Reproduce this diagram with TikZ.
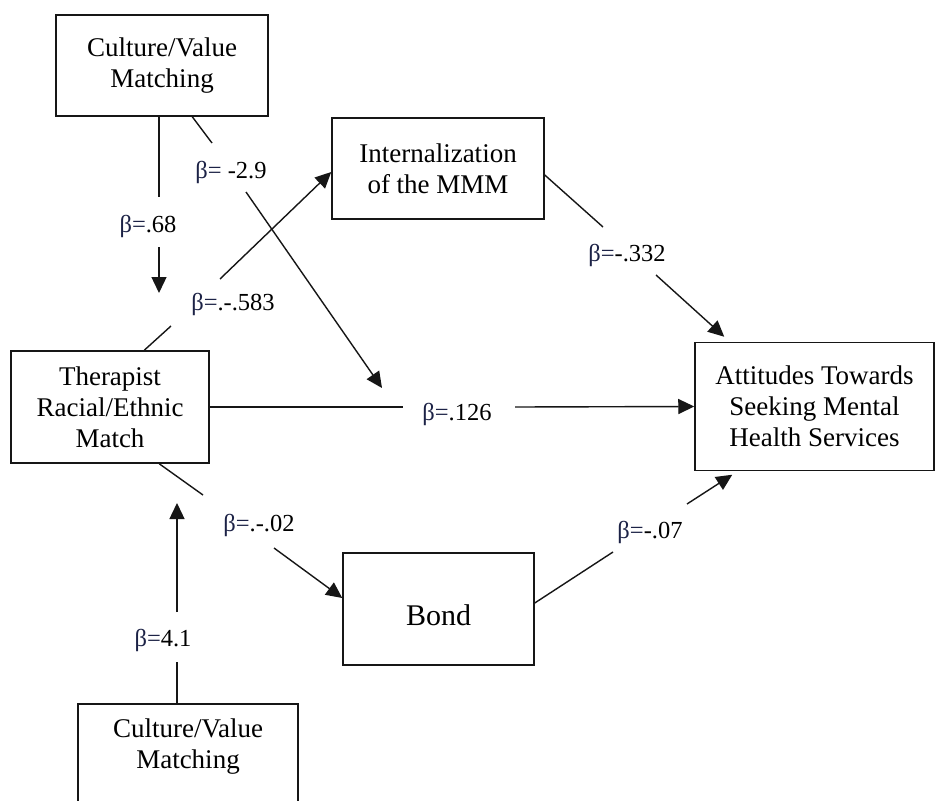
\documentclass[tikz,border=0pt]{standalone}
\usepackage{fontspec}
\setmainfont{Liberation Serif}
\usetikzlibrary{arrows.meta}
\definecolor{betac}{RGB}{28,34,70}
\definecolor{ink}{RGB}{22,22,22}
\newcommand{\bz}[1]{{\color{betac}β=}#1}
\begin{document}
\begin{tikzpicture}[x=1pt,y=-1pt,
  box/.style={draw=ink,line width=1.5pt,rectangle,align=center,
    font=\fontsize{27}{31}\selectfont,inner sep=0pt},
  boxtext/.style={align=center,font=\fontsize{27}{31}\selectfont,inner sep=0pt},
  lnk/.style={draw=ink,line width=1.4pt},
  arr/.style={lnk,-{Triangle[length=16pt,width=15pt]}},
  beta/.style={font=\fontsize{24.5}{28}\selectfont,inner sep=0pt}]
\useasboundingbox (0,0) rectangle (936,800);
\fill[white] (0,0) rectangle (936,800);
\begin{scope}
\clip (0,0) rectangle (936,800);
% boxes
\node[box,minimum width=212pt,minimum height=101pt] (cv1) at (162,65.5) {Culture/Value\\Matching};
\node[box,minimum width=212pt,minimum height=101pt] (int) at (438,168.5) {Internalization\\of the MMM};
\node[box,minimum width=198pt,minimum height=112pt] (ther) at (110,407) {Therapist\\Racial/Ethnic\\Match};
\node[box,minimum width=239pt,minimum height=128pt] (att) at (814.5,406.5) {Attitudes Towards\\Seeking Mental\\Health Services};
\node[box,minimum width=191pt,minimum height=112pt,font=\fontsize{30}{34}\selectfont,text height=34pt] (bond) at (438.5,609) {Bond};
\node[box,minimum width=220pt,minimum height=120pt,anchor=north] (cv2) at (188,703) {};
\node[boxtext] (cv2t) at (188,747) {Culture/Value\\Matching};
% gap coordinates and free ends
\coordinate (g1a) at (159,197); \coordinate (g1b) at (159,247); \coordinate (t1) at (159,293);
\coordinate (g2a) at (212,143); \coordinate (g2b) at (246,192); \coordinate (t2) at (382,388);
\coordinate (g3a) at (171,326); \coordinate (g3b) at (220,279);
\coordinate (g4a) at (603,227); \coordinate (g4b) at (656,275);
\coordinate (g5a) at (403,407); \coordinate (g5b) at (515,407);
\coordinate (g6a) at (203,495); \coordinate (g6b) at (274,548);
\coordinate (g7a) at (613,552); \coordinate (g7b) at (687,504);
\coordinate (g8a) at (177,662); \coordinate (g8b) at (177,612); \coordinate (t8) at (177,503);
% connectors
\draw[lnk] (cv1.south -| g1a) -- (g1a);
\draw[arr] (g1b) -- (t1);
\draw[lnk] ([xshift=137pt]cv1.south west) -- (g2a);
\draw[arr] (g2b) -- (t2);
\draw[lnk] ([xshift=134pt]ther.north west) -- (g3a);
\draw[arr] (g3b) -- ([yshift=-3.5pt]int.west);
\draw[lnk] ([yshift=-6.5pt]int.east) -- (g4a);
\draw[arr] (g4b) -- ([xshift=30pt,yshift=5pt]att.north west);
\draw[lnk] (ther.east) -- (g5a);
\draw[arr] (g5b) -- (att.west);
\draw[lnk] ([xshift=149pt]ther.south west) -- (g6a);
\draw[arr] (g6b) -- ([yshift=11pt]bond.west);
\draw[lnk] ([yshift=6pt]bond.east) -- (g7a);
\draw[arr] (g7b) -- ([xshift=38pt,yshift=-3.5pt]att.south west);
\draw[lnk] (cv2.north -| g8a) -- (g8a);
\draw[arr] (g8b) -- (t8);
% labels
\node[beta] (l68) at (148,226) {\bz{.68}};
\node[beta] (l29) at (231,172) {\bz{ -2.9}};
\node[beta] (l583) at (233,304) {\bz{.-.583}};
\node[beta] (l332) at (627,255) {\bz{-.332}};
\node[beta] (l126) at (457,414) {\bz{.126}};
\node[beta] (l02) at (259,525) {\bz{.-.02}};
\node[beta] (l07) at (650,532) {\bz{-.07}};
\node[beta] (l41) at (163,640) {\bz{4.1}};
\end{scope}
\end{tikzpicture}
\end{document}
